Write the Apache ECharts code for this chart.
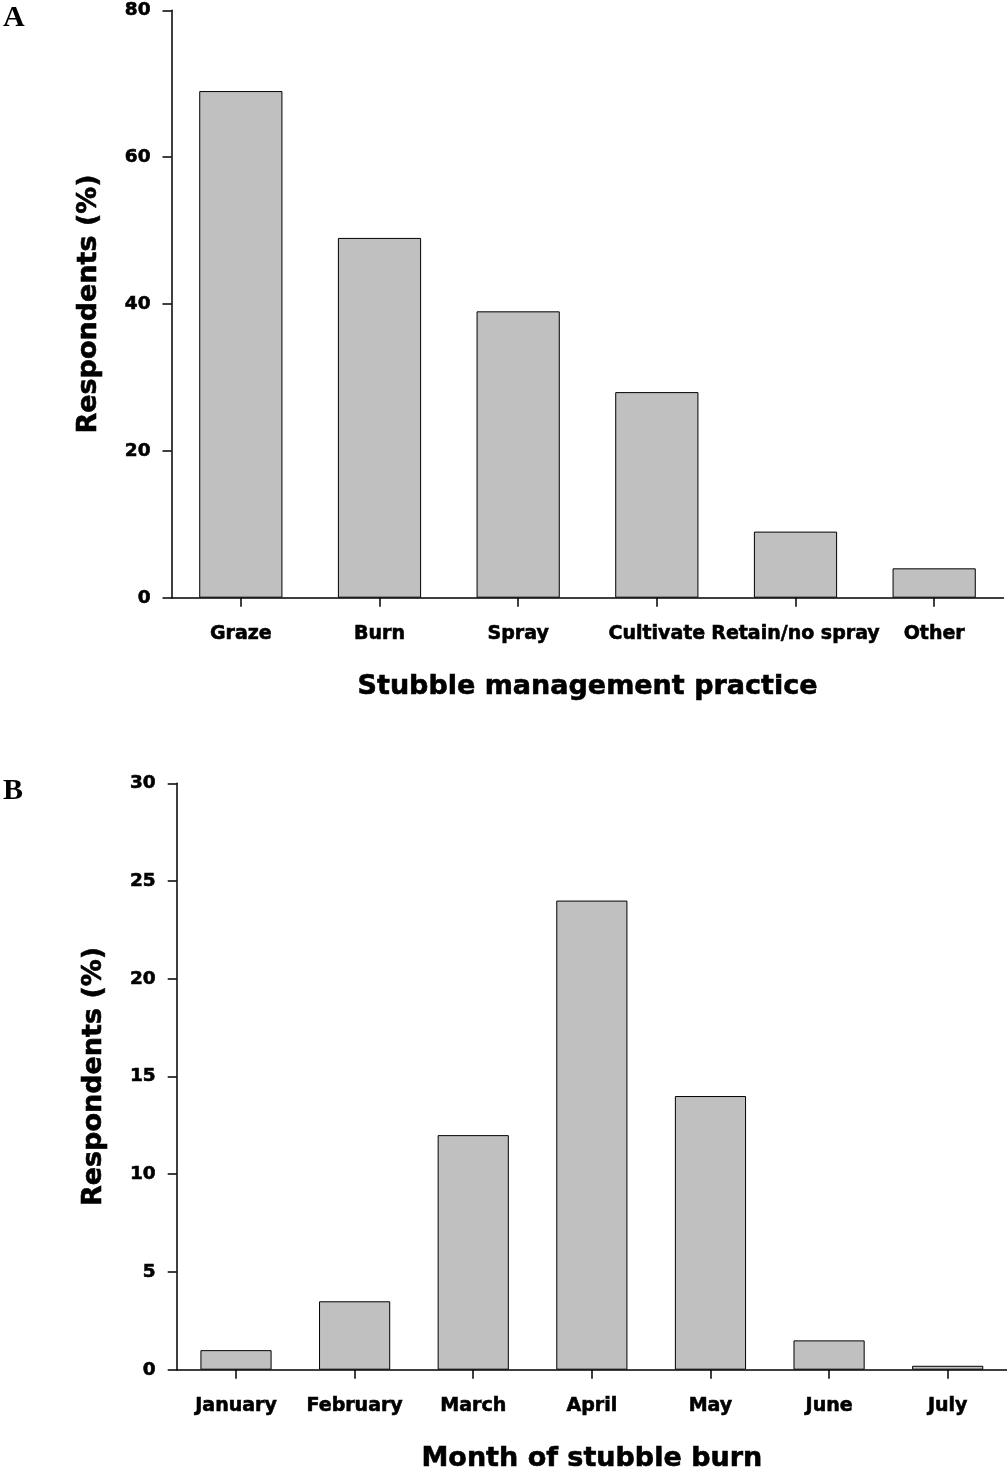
<!DOCTYPE html>
<html>
<head>
<meta charset="utf-8">
<script src="https://cdn.jsdelivr.net/npm/echarts@6/dist/echarts.min.js"></script>
<style>
html,body{margin:0;padding:0;background:#fff;}
#chart{width:1007px;height:1474px;}
</style>
</head>
<body>
<div id="chart"></div>
<script>
// Panel A data
const practiceCategories = ['Graze', 'Burn', 'Spray', 'Cultivate', 'Retain/no spray', 'Other'];
const practiceValues = [69, 49, 39, 28, 9, 4];
const practiceTicks = [0, 20, 40, 60, 80];

// Panel B data
const monthCategories = ['January', 'February', 'March', 'April', 'May', 'June', 'July'];
const monthValues = [1, 3.5, 12, 24, 14, 1.5, 0.2];
const monthTicks = [0, 5, 10, 15, 20, 25, 30];

const FONT = 'DejaVu Sans';
const heavy = { textBorderColor: '#000', textBorderWidth: 0.6 };
const axisLine = { show: true, lineStyle: { color: '#000', width: 1.5 } };
const axisTick = { show: true, inside: false, length: 9, lineStyle: { color: '#000', width: 1.5 } };

function xAxis(gridIndex, cats, name) {
  return {
    type: 'category', gridIndex, data: cats, boundaryGap: true,
    axisLine, axisTick: Object.assign({ alignWithLabel: true }, axisTick),
    axisLabel: Object.assign({ color: '#000', fontFamily: FONT, fontWeight: 'bold', fontSize: 19, margin: 27, interval: 0 }, heavy),
    name, nameLocation: 'middle', nameGap: 76,
    nameTextStyle: Object.assign({ color: '#000', fontFamily: FONT, fontWeight: 'bold', fontSize: 27 }, heavy),
    splitLine: { show: false }
  };
}
function yAxis(gridIndex, ticks) {
  const min = ticks[0], max = ticks[ticks.length - 1], interval = ticks[1] - ticks[0];
  return {
    type: 'value', gridIndex, min, max, interval,
    axisLine, axisTick,
    axisLabel: Object.assign({ color: '#000', fontFamily: FONT, fontWeight: 'bold', fontSize: 18.5, margin: 21 }, heavy),
    name: 'Respondents (%)', nameLocation: 'middle', nameGap: 69, nameRotate: 90,
    nameTextStyle: Object.assign({ color: '#000', fontFamily: FONT, fontWeight: 'bold', fontSize: 27 }, heavy),
    splitLine: { show: false }
  };
}

const letterStyle = { fontFamily: 'Liberation Serif', fontWeight: 'bold', fontSize: 30, color: '#000' };
const chart = echarts.init(document.getElementById('chart'), null, { renderer: 'canvas' });
chart.setOption({
  animation: false,
  backgroundColor: '#fff',
  title: [
    { text: 'A', left: 3, top: 3, textStyle: letterStyle, padding: 0 },
    { text: 'B', left: 3, top: 776, textStyle: letterStyle, padding: 0 }
  ],
  grid: [
    { left: 171.5, top: 10.3, width: 832, height: 587.4 },
    { left: 176.7, top: 783.3, width: 831.6, height: 587.4 }
  ],
  xAxis: [xAxis(0, practiceCategories, 'Stubble management practice'), xAxis(1, monthCategories, 'Month of stubble burn')],
  yAxis: [yAxis(0, practiceTicks), yAxis(1, monthTicks)],
  series: [
    { type: 'bar', xAxisIndex: 0, yAxisIndex: 0, data: practiceValues, barWidth: '60%',
      itemStyle: { color: '#c0c0c0', borderColor: '#000', borderWidth: 1 } },
    { type: 'bar', xAxisIndex: 1, yAxisIndex: 1, data: monthValues, barWidth: '60%',
      itemStyle: { color: '#c0c0c0', borderColor: '#000', borderWidth: 1 } }
  ]
});
</script>
</body>
</html>
